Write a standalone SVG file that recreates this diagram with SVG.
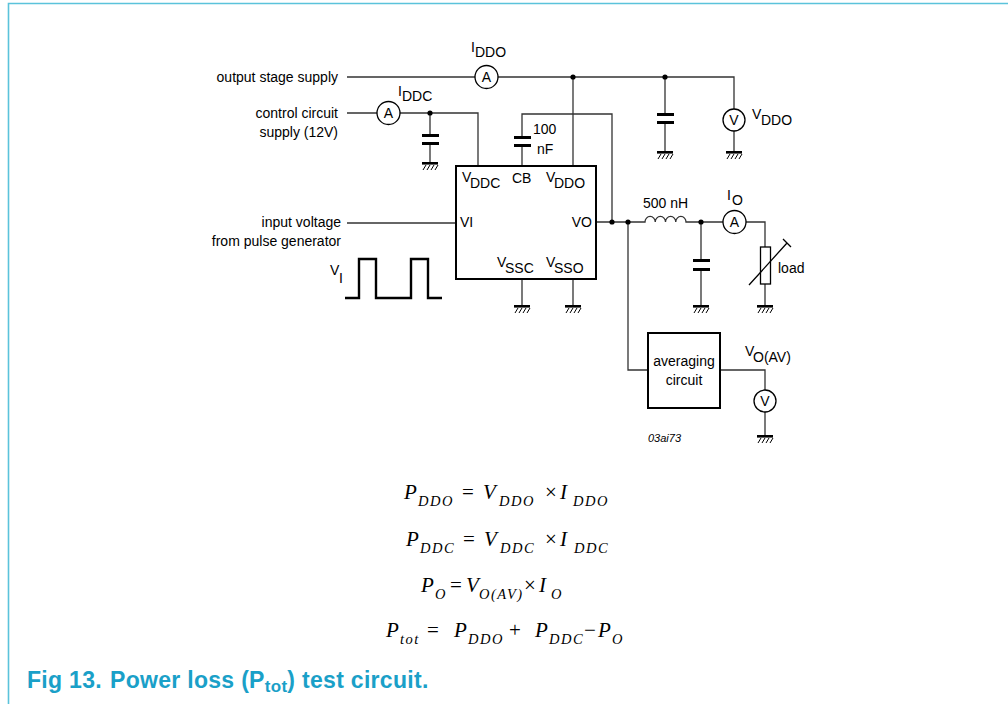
<svg xmlns="http://www.w3.org/2000/svg" xmlns:xlink="http://www.w3.org/1999/xlink" width="1008" height="704" viewBox="0 0 1008 704">
<style>
.w{fill:none;stroke:#333;stroke-width:1.3}
.bx{fill:#fff;stroke:#000;stroke-width:2}
.mt{fill:#fff;stroke:#000;stroke-width:1.3}
.t{font-family:"Liberation Sans",Arial,sans-serif;font-size:14px;fill:#000}
.e{text-anchor:end}
.c{text-anchor:middle}
.m{font-family:"Liberation Serif","Times New Roman",serif;font-style:italic;font-size:21px;fill:#000}
.op{font-style:normal}
.s{font-size:14.5px;letter-spacing:1.5px}
.frame{fill:none;stroke:#5bc3db;stroke-width:1.6}
.cap{font-family:"Liberation Sans",Arial,sans-serif;font-weight:bold;font-size:23px;letter-spacing:0.3px;fill:#1aa0c8}
</style>
<defs>
<g id="gnd"><rect x="-8" y="0" width="16" height="2.6" fill="#000"/><path d="M-4,3 l-3,5 M0,3 l-3,5 M4,3 l-3,5 M8,3 l-3,5" stroke="#000" stroke-width="1" fill="none"/></g>
<g id="dot"><circle r="2.6" fill="#000"/></g>
</defs>
<path class="frame" d="M8.5,704 V3.5 H1008"/>
<g id="connectors">
<path class="w" d="M347,77 H475 M498,77 H734 V109 M734,131 V151"/>
<path class="w" d="M573,77 V166"/>
<path class="w" d="M665,77 V113 M665,124 V151"/>
<path class="w" d="M347,113 H377 M400,113 H478 V166"/>
<path class="w" d="M430,113 V134 M430,145 V162"/>
<path class="w" d="M522,166 V147 M522,136 V114 H612 V222"/>
<path class="w" d="M347,223 H456"/>
<path class="w" d="M596,222 H645 a5.1,5.5 0 0 1 10.25,0 a5.1,5.5 0 0 1 10.25,0 a5.1,5.5 0 0 1 10.25,0 a5.1,5.5 0 0 1 10.25,0 H723 M746,222 H765 V247 M765,284 V305"/>
<path class="w" d="M701,222 V259 M701,271 V305"/>
<path class="w" d="M628,222 V370 H648 M720,370 H765 V390 M765,412 V435"/>
<path class="w" d="M522,279 V305 M573,279 V305"/>
<use xlink:href="#dot" x="573" y="77"/>
<use xlink:href="#dot" x="665" y="77"/>
<use xlink:href="#dot" x="430" y="113"/>
<use xlink:href="#dot" x="612" y="222"/>
<use xlink:href="#dot" x="628" y="222"/>
<use xlink:href="#dot" x="701" y="222"/>
</g>
<g id="grounds">
<use xlink:href="#gnd" x="430" y="162"/>
<use xlink:href="#gnd" x="665" y="151"/>
<use xlink:href="#gnd" x="734" y="151"/>
<use xlink:href="#gnd" x="522" y="305"/>
<use xlink:href="#gnd" x="573" y="305"/>
<use xlink:href="#gnd" x="701" y="305"/>
<use xlink:href="#gnd" x="765" y="305"/>
<use xlink:href="#gnd" x="765" y="435"/>
</g>
<g id="labels-inputs">
<text class="t e" x="338" y="82">output stage supply</text>
<text class="t e" x="338" y="118">control circuit</text>
<text class="t e" x="338" y="137">supply (12V)</text>
<text class="t e" x="341" y="227">input voltage</text>
<text class="t e" x="341" y="246">from pulse generator</text>
</g>
<g id="ammeter-iddo">
<circle class="mt" cx="486.5" cy="77" r="11.5"/>
<text class="t c" x="486.5" y="82">A</text>
<text class="t" x="471" y="52">I</text><text class="t" x="475" y="57">DDO</text>
</g>
<g id="ammeter-iddc">
<circle class="mt" cx="388.5" cy="113" r="11.5"/>
<text class="t c" x="388.5" y="118">A</text>
<text class="t" x="398" y="96">I</text><text class="t" x="402" y="101">DDC</text>
</g>
<g id="cap-ddc">
<rect x="422" y="134" width="17" height="3" fill="#000"/>
<rect x="422" y="142" width="17" height="3" fill="#000"/>
</g>
<g id="cap-cb">
<rect x="514" y="136" width="17" height="3" fill="#000"/>
<rect x="514" y="144" width="17" height="3" fill="#000"/>
<text class="t" x="533" y="134">100</text>
<text class="t" x="537" y="154">nF</text>
</g>
<g id="cap-ddo">
<rect x="657" y="113" width="17" height="3" fill="#000"/>
<rect x="657" y="121" width="17" height="3" fill="#000"/>
</g>
<g id="voltmeter-vddo">
<circle class="mt" cx="734" cy="120" r="11"/>
<text class="t c" x="734" y="125">V</text>
<text class="t" x="752" y="119">V</text><text class="t" x="761" y="125">DDO</text>
</g>
<g id="ic">
<rect class="bx" x="456" y="166" width="140" height="113"/>
<text class="t" x="462" y="182">V</text><text class="t" x="470" y="188">DDC</text>
<text class="t" x="512" y="183">CB</text>
<text class="t" x="546" y="182">V</text><text class="t" x="554" y="188">DDO</text>
<text class="t" x="460" y="227">VI</text>
<text class="t e" x="592" y="227">VO</text>
<text class="t" x="497" y="267">V</text><text class="t" x="505" y="273">SSC</text>
<text class="t" x="546" y="267">V</text><text class="t" x="554" y="273">SSO</text>
</g>
<g id="pulse">
<path d="M345,298 H359 V259 H376 V298 H411 V259 H428 V298 H442" fill="none" stroke="#000" stroke-width="2.4"/>
<text class="t" x="330" y="275">V</text><text class="t" x="339" y="283">I</text>
</g>
<g id="inductor">
<text class="t" x="643" y="208">500 nH</text>
</g>
<g id="cap-out">
<rect x="693" y="259" width="17" height="3" fill="#000"/>
<rect x="693" y="268" width="17" height="3" fill="#000"/>
</g>
<g id="ammeter-io">
<circle class="mt" cx="734.5" cy="222" r="11.5"/>
<text class="t c" x="734.5" y="227">A</text>
<text class="t" x="727" y="200">I</text><text class="t" x="732" y="205">O</text>
</g>
<g id="load">
<rect x="760.5" y="247" width="10" height="37" fill="#fff" stroke="#000" stroke-width="1.3"/>
<path d="M749,285 L787,243 M783,239 L791,247" fill="none" stroke="#000" stroke-width="1.3"/>
<text class="t" x="778" y="273">load</text>
</g>
<g id="averaging">
<rect class="bx" x="648" y="333" width="72" height="75"/>
<text class="t c" x="684" y="366">averaging</text>
<text class="t c" x="684" y="385">circuit</text>
</g>
<g id="voltmeter-voav">
<circle class="mt" cx="765" cy="401" r="11"/>
<text class="t c" x="765" y="406">V</text>
<text class="t" x="745" y="356">V</text><text class="t" x="753" y="362">O(AV)</text>
</g>
<text x="648" y="442" font-family="Liberation Sans, Arial, sans-serif" font-style="italic" font-size="11" fill="#000">03ai73</text>
<g id="equations">
<text class="m" x="404" y="499">P</text><text class="m s" x="418" y="506">DDO</text><text class="m op" x="462" y="499">=</text><text class="m" x="483" y="499">V</text><text class="m s" x="499" y="506">DDO</text><text class="m op" x="545" y="499">×</text><text class="m" x="560" y="499">I</text><text class="m s" x="573" y="506">DDO</text>
<text class="m" x="406" y="546">P</text><text class="m s" x="420" y="553">DDC</text><text class="m op" x="463" y="546">=</text><text class="m" x="484" y="546">V</text><text class="m s" x="500" y="553">DDC</text><text class="m op" x="545" y="546">×</text><text class="m" x="560" y="546">I</text><text class="m s" x="574" y="553">DDC</text>
<text class="m" x="421" y="592">P</text><text class="m s" x="435" y="599">O</text><text class="m op" x="450" y="592">=</text><text class="m" x="466" y="592">V</text><text class="m s" x="479" y="599" letter-spacing="0">O(AV)</text><text class="m op" x="524" y="592">×</text><text class="m" x="539" y="592">I</text><text class="m s" x="551" y="599">O</text>
<text class="m" x="386" y="637">P</text><text class="m s" x="400" y="644">tot</text><text class="m op" x="427" y="637">=</text><text class="m" x="454" y="637">P</text><text class="m s" x="468" y="644">DDO</text><text class="m op" x="509" y="637">+</text><text class="m" x="535" y="637">P</text><text class="m s" x="549" y="644">DDC</text><text class="m op" x="584" y="637">−</text><text class="m" x="598" y="637">P</text><text class="m s" x="612" y="644">O</text>
</g>
<g id="caption">
<text class="cap" x="27" y="688">Fig 13.</text>
<text class="cap" x="110" y="688">Power loss (P<tspan font-size="17" dy="4">tot</tspan><tspan dy="-4">) test circuit.</tspan></text>
</g>
</svg>
